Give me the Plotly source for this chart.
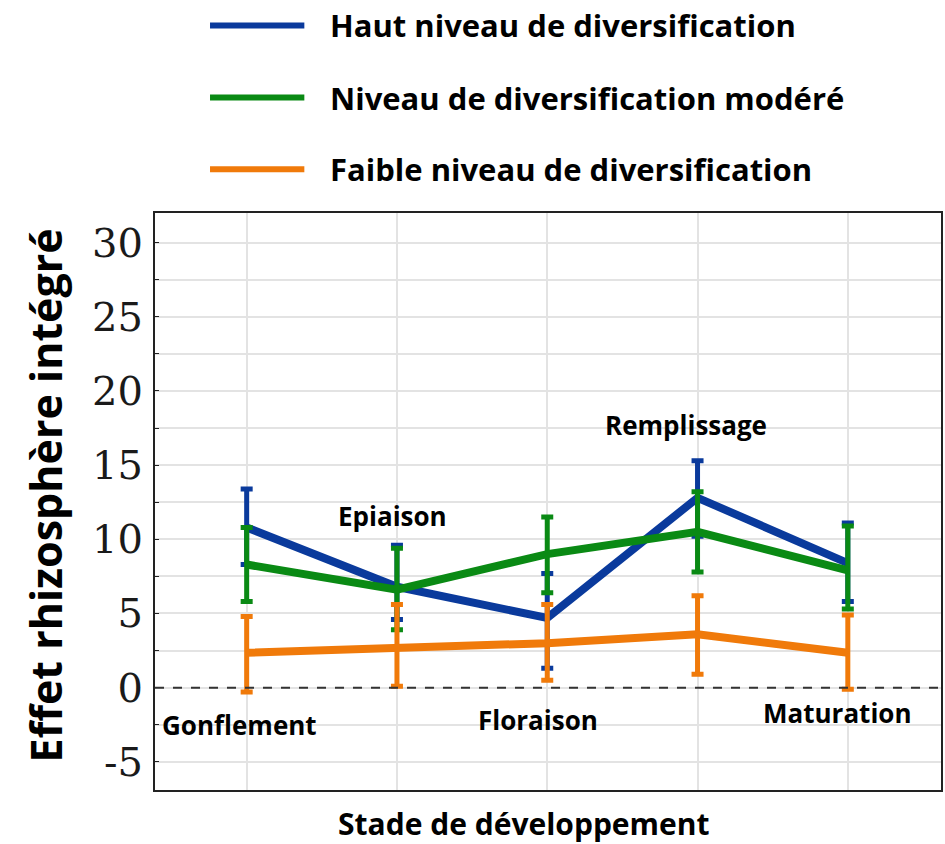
import plotly.graph_objects as go

stages = ["Gonflement", "Epiaison", "Floraison", "Remplissage", "Maturation"]
series_names = ["Haut niveau de diversification",
                "Niveau de diversification modéré",
                "Faible niveau de diversification"]

haut_mean = [10.8, 6.8, 4.7, 12.8, 8.4]
haut_upper = [13.4, 9.6, 7.7, 15.3, 11.1]
haut_lower = [8.3, 4.6, 1.3, 10.2, 5.8]

modere_mean = [8.3, 6.6, 9.0, 10.5, 7.9]
modere_upper = [10.8, 9.4, 11.5, 13.2, 10.9]
modere_lower = [5.8, 3.9, 6.4, 7.8, 5.3]

faible_mean = [2.35, 2.7, 3.0, 3.6, 2.35]
faible_upper = [4.8, 5.6, 5.6, 6.2, 4.9]
faible_lower = [-0.3, 0.1, 0.5, 0.9, -0.1]

y_ticks = [-5, 0, 5, 10, 15, 20, 25, 30]

colors = ["#0a3a9c", "#0a8a14", "#f07a0a"]

fig = go.Figure()
xs = list(range(len(stages)))
for name, mean, up, lo, col in zip(
        series_names,
        [haut_mean, modere_mean, faible_mean],
        [haut_upper, modere_upper, faible_upper],
        [haut_lower, modere_lower, faible_lower],
        colors):
    fig.add_trace(go.Scatter(
        x=xs, y=mean, mode="lines", name=name,
        line=dict(color=col, width=8),
        error_y=dict(type="data", symmetric=False,
                     array=[u - m for u, m in zip(up, mean)],
                     arrayminus=[m - l for m, l in zip(mean, lo)],
                     color=col, thickness=5, width=6),
        showlegend=False,
    ))

# zero reference line
fig.add_shape(type="line", xref="paper", yref="y", x0=0, x1=1, y0=0, y1=0,
              line=dict(color="#333333", width=2, dash="dash"))

# stage labels (placement offsets relative to each stage)
label_offsets = {"Gonflement": (-0.05, -2.5), "Epiaison": (-0.03, 11.6),
                 "Floraison": (-0.06, -2.2), "Remplissage": (-0.08, 17.7),
                 "Maturation": (-0.07, -1.7)}
for i, s in enumerate(stages):
    dx, yv = label_offsets[s]
    fig.add_annotation(x=i + dx, y=yv, xref="x", yref="y", text=s,
                       showarrow=False,
                       font=dict(family="Open Sans", size=26, color="black", weight="bold"))

# manual legend
leg_y = [1.325, 1.2, 1.076]
for name, col, ly in zip(series_names, colors, leg_y):
    fig.add_shape(type="line", xref="paper", yref="paper",
                  x0=0.070, x1=0.190, y0=ly, y1=ly,
                  line=dict(color=col, width=6))
    fig.add_annotation(x=0.2195, y=ly, xref="paper", yref="paper", text=name,
                       showarrow=False, xanchor="left", yanchor="middle",
                       font=dict(family="Open Sans", size=31, color="black", weight="bold"))

# axis titles
fig.add_annotation(x=-0.1396, y=0.511, xref="paper", yref="paper",
                   xanchor="center", yanchor="middle",
                   text="Effet rhizosphère intégré", textangle=-90, showarrow=False,
                   font=dict(family="Open Sans", size=43, color="black", weight="bold"))
fig.add_annotation(x=0.4695, y=-0.0572, xref="paper", yref="paper",
                   xanchor="center", yanchor="middle",
                   text="Stade de développement", showarrow=False,
                   font=dict(family="Open Sans", size=30, color="black", weight="bold"))

fig.update_layout(
    width=945, height=844,
    margin=dict(l=155, r=2, t=213, b=54),
    plot_bgcolor="white", paper_bgcolor="white",
)
fig.update_xaxes(range=[-0.61, 4.62], showticklabels=False, tickvals=xs,
                 showgrid=True, gridcolor="#e3e3e3", gridwidth=2,
                 showline=True, linecolor="#222222", linewidth=2, mirror=True,
                 zeroline=False, ticks="")
fig.update_yaxes(range=[-6.9, 32.0], tickvals=y_ticks,
                 ticktext=[str(v) for v in y_ticks],
                 tickfont=dict(family="DejaVu Serif", size=40, color="#1a1a1a"),
                 showgrid=True, gridcolor="#e3e3e3", gridwidth=2,
                 minor=dict(dtick=2.5, tick0=0, showgrid=True, gridcolor="#e3e3e3",
                            gridwidth=2, ticks="inside", ticklen=4, tickcolor="#222222"),
                 showline=True, linecolor="#222222", linewidth=2, mirror=True,
                 zeroline=False, ticks="inside", ticklen=4, tickcolor="#222222",
                 ticklabelstandoff=2)

fig.write_html("out.html", config={"displayModeBar": False},
               post_script="document.body.style.margin='0px';")
